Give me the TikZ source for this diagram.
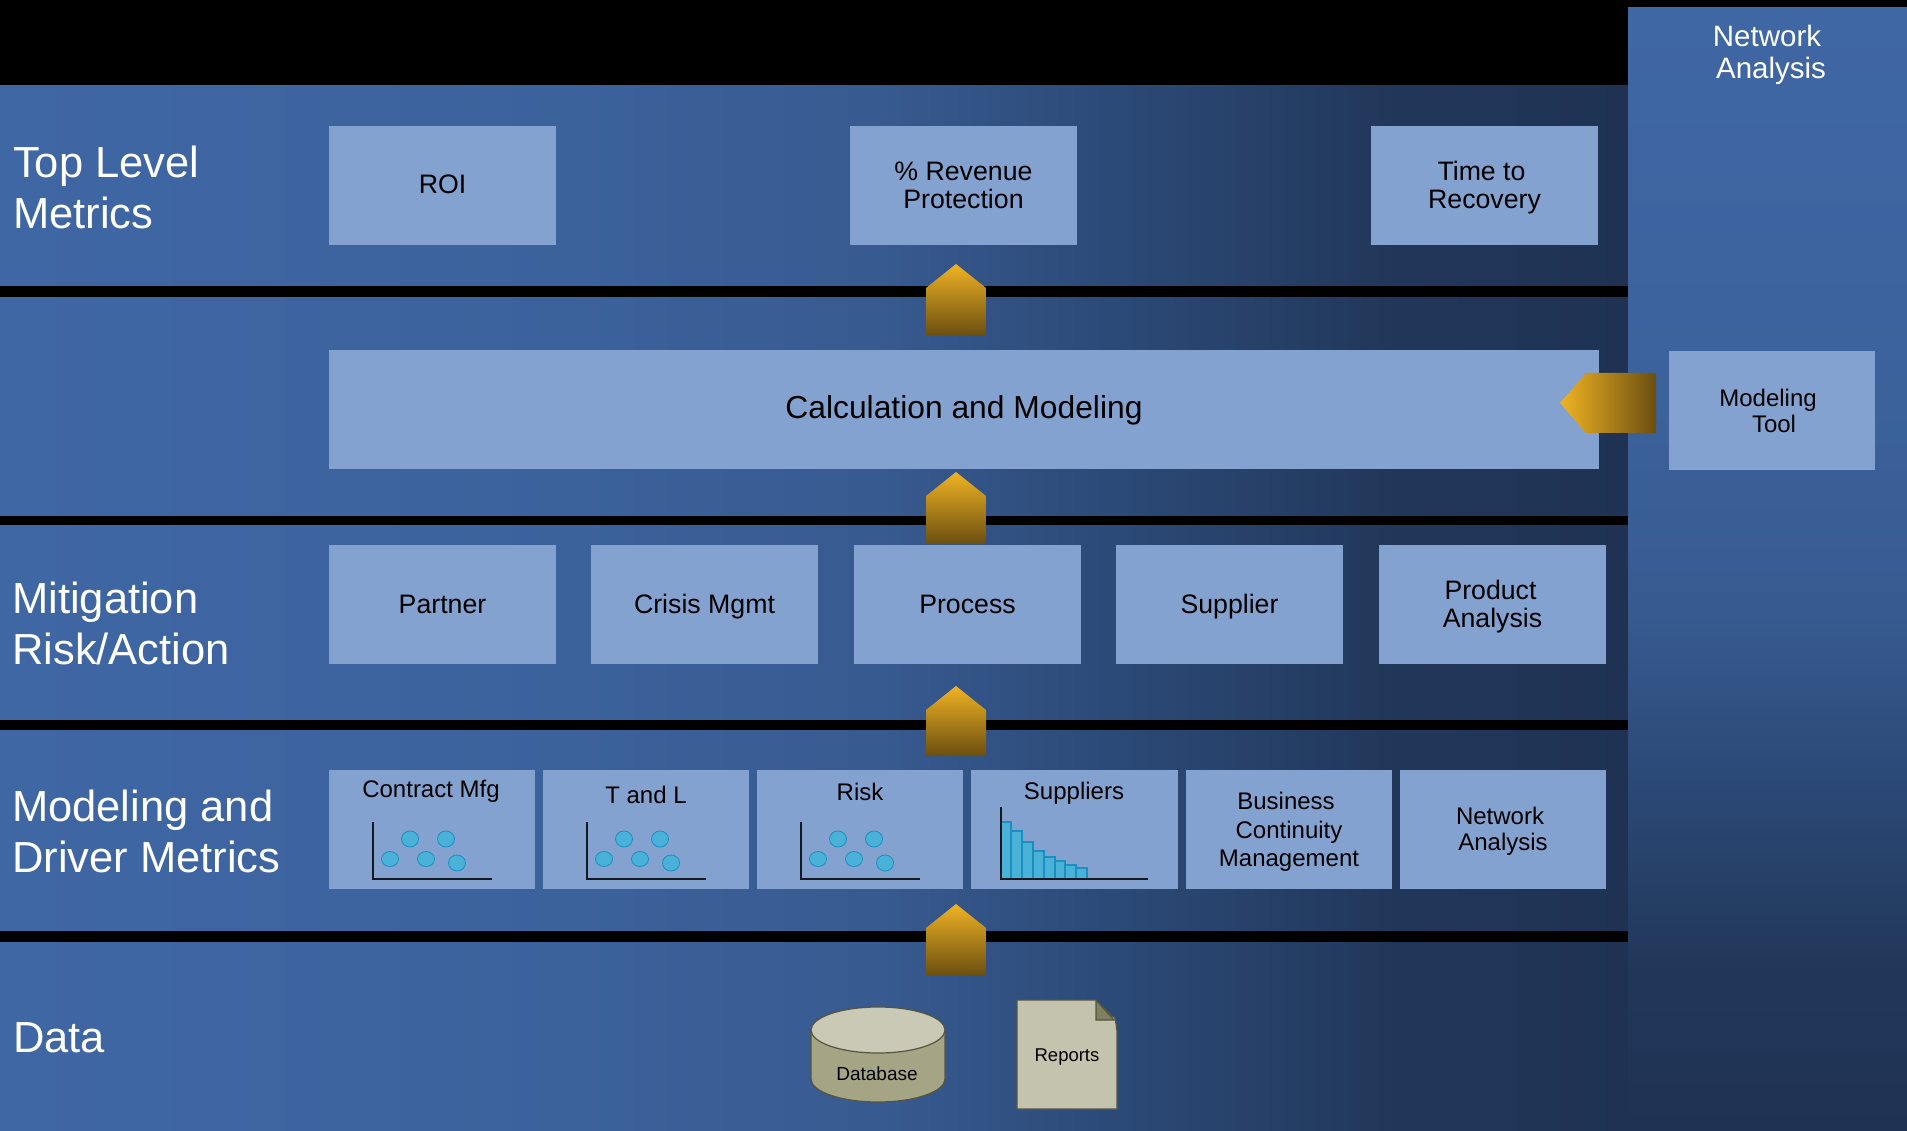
\documentclass[tikz,border=0pt]{standalone}
\usepackage{fontspec}
\setmainfont{Liberation Sans}
\definecolor{bandL}{HTML}{3F67A4}
\definecolor{bandA}{HTML}{3C629C}
\definecolor{bandB}{HTML}{375A90}
\definecolor{bandC}{HTML}{2C4A78}
\definecolor{bandD}{HTML}{213759}
\definecolor{bandR}{HTML}{1F3254}
\definecolor{boxfill}{HTML}{84A2CF}
\definecolor{goldA}{HTML}{F0B323}
\definecolor{goldB}{HTML}{6B4F10}
\definecolor{dotfill}{HTML}{4AB2D8}
\definecolor{dotline}{HTML}{1A8FC0}
\definecolor{olive}{HTML}{A5A586}
\definecolor{olivetop}{HTML}{C9C9B5}
\definecolor{paper}{HTML}{C4C4AE}
\definecolor{fold}{HTML}{7F7F62}
\definecolor{oline}{HTML}{55553F}
\pgfdeclarehorizontalshading{bandshade}{100bp}{color(0bp)=(bandL); color(25bp)=(bandL); color(42.5bp)=(bandA); color(52bp)=(bandB); color(59bp)=(bandC); color(68bp)=(bandD); color(75bp)=(bandR); color(100bp)=(bandR)}
\pgfdeclareverticalshading{colshade}{100bp}{color(0bp)=(bandR); color(25bp)=(bandR); color(32bp)=(bandD); color(41bp)=(bandC); color(48bp)=(bandB); color(57.5bp)=(bandA); color(75bp)=(bandL); color(100bp)=(bandL)}
\newcommand{\fs}[2]{\fontsize{#1}{#2}\selectfont}
\newcommand{\vcA}{\rule[-6pt]{0pt}{29pt}}
\newcommand{\vcB}{\rule[-6pt]{0pt}{31pt}}
\newcommand{\tall}[1]{\rule{0pt}{#1pt}}
\tikzset{
  x=1pt,y=-1pt,
  band/.style={shading=bandshade,draw=none},
  colband/.style={shading=colshade,draw=none},
  bar/.style={fill=black,draw=none},
  metricbox/.style={fill=boxfill,draw=none,inner sep=0pt,text=black,align=center,minimum height=119pt,font=\fs{26.7}{28}},
  smallbox/.style={metricbox,minimum width=206pt,font=\fs{24}{28.5}},
  rowlabel/.style={anchor=west,inner sep=0pt,text=white,align=left,font=\fs{43.5}{51}},
  boxtext/.style={inner sep=0pt,text=black,align=center,font=\fs{24}{28}},
  uparrow/.style={top color=goldA,bottom color=goldB,draw=none},
  leftarrow/.style={left color=goldA,right color=goldB,draw=none},
  axisline/.style={draw=black!85!boxfill,line width=1.2pt},
  dot/.style={fill=dotfill,draw=dotline,line width=0.8pt},
  hbar/.style={fill=dotfill,draw=dotline,line width=1.2pt},
  oliveshape/.style={draw=oline,line width=1.2pt},
}
\begin{document}
\begin{tikzpicture}
\useasboundingbox (0,0) rectangle (1907,1131);
\fill[black] (0,0) rectangle (1907,1131);
% bands
\shade[band] (0,85) rectangle (1628,1131);
% separators and top strip
\fill[bar] (0,0) rectangle (1628,85.5);
\fill[bar] (0,286) rectangle (1628,297);
\fill[bar] (0,516) rectangle (1628,525);
\fill[bar] (0,720) rectangle (1628,730);
\fill[bar] (0,931) rectangle (1628,941.5);
% right column
\shade[colband] (1628,7) rectangle (1907,1131);
\fill[bar] (1628,0) rectangle (1907,7);
% row labels
\node[rowlabel] (lblTop) at (13,187) {Top Level\\Metrics};
\node[rowlabel] (lblMit) at (12,623) {Mitigation\\Risk/Action};
\node[rowlabel] (lblMod) at (12,831) {Modeling and\\Driver Metrics};
\node[rowlabel] (lblData) at (13,1038) {Data};
\node[inner sep=0pt,text=white,align=center,font=\fs{29.5}{32}] (lblNet) at (1770,55) {Network\hspace*{6pt}\\\hspace*{2pt}Analysis};
% top row
\node[metricbox,minimum width=227pt] (roi) at (442.5,185.5) {\vcA ROI};
\node[metricbox,minimum width=227pt] (rev) at (963.5,185.5) {\% Revenue\\Protection};
\node[metricbox,minimum width=227pt] (ttr) at (1484.5,185.5) {\tall{24}Time to\hspace*{6pt}\\Recovery};
% calc
\node[metricbox,minimum width=1270pt,font=\fs{31.8}{36}] (calc) at (964,409.5) {\vcB Calculation and Modeling};
\node[metricbox,minimum width=206pt,font=\fs{24}{26}] (tool) at (1772,410.5) {Modeling\hspace*{8pt}\\\hspace*{4pt}Tool};
% mitigation row
\node[metricbox,minimum width=227pt] (partner) at (442.5,604.5) {\vcA Partner};
\node[metricbox,minimum width=227pt] (crisis) at (704.5,604.5) {\vcA Crisis Mgmt};
\node[metricbox,minimum width=227pt] (process) at (967.5,604.5) {\vcA Process};
\node[metricbox,minimum width=227pt] (supplier) at (1229.5,604.5) {\vcA Supplier};
\node[metricbox,minimum width=227pt] (product) at (1492.5,604.5) {\tall{24}Product\hspace*{4pt}\\Analysis};
% driver row
\node[smallbox] (contract) at (432,829.5) {};
\node[smallbox] (tandl) at (646,829.5) {};
\node[smallbox] (riskb) at (860,829.5) {};
\node[smallbox,minimum width=207pt] (supp) at (1074.5,829.5) {};
\node[smallbox] (bcm) at (1289,829.5) {\tall{22}Business\hspace*{6pt}\\Continuity\hspace*{6pt}\\Management};
\node[smallbox,font=\fs{24}{26}] (net) at (1503,829.5) {\tall{21}Network\hspace*{6pt}\\Analysis};
\node[boxtext] (contractT) at (431,791) {Contract Mfg};
\node[boxtext] (tandlT) at (646,795) {T and L};
\node[boxtext] (riskT) at (860,792) {Risk};
\node[boxtext] (suppT) at (1074,793) {Suppliers};
% scatter charts
\foreach \dx in {0,214,428}{
  \draw[axisline] (373+\dx,822) -- (373+\dx,879) -- (492+\dx,879);
  \draw[dot] (410+\dx,839) ellipse [x radius=8.5,y radius=8];
  \draw[dot] (446+\dx,839) ellipse [x radius=8.5,y radius=8];
  \draw[dot] (390+\dx,859) ellipse [x radius=8.5,y radius=7.5];
  \draw[dot] (426+\dx,859) ellipse [x radius=8.5,y radius=7.5];
  \draw[dot] (457+\dx,863) ellipse [x radius=8.5,y radius=8];
}
% histogram
\draw[hbar] (1001,822) rectangle (1011,879);
\draw[hbar] (1011,831) rectangle (1022,879);
\draw[hbar] (1022,842) rectangle (1033,879);
\draw[hbar] (1033,851) rectangle (1044,879);
\draw[hbar] (1044,857) rectangle (1055,879);
\draw[hbar] (1055,861) rectangle (1065,879);
\draw[hbar] (1065,865) rectangle (1076,879);
\draw[hbar] (1076,868) rectangle (1087,879);
\draw[axisline] (1001,807) -- (1001,879) -- (1148,879);
% data
\draw[oliveshape,fill=olive] (811,1030) -- (811,1079) arc[start angle=180,end angle=360,x radius=67,y radius=-23] -- (945,1030) -- cycle;
\draw[oliveshape,fill=olivetop] (878,1030) ellipse [x radius=67,y radius=23];
\node[boxtext,font=\fs{19}{22}] (db) at (877,1074) {Database};
\draw[oliveshape,fill=paper] (1017,1000) -- (1096,1000) -- (1113,1017) to[out=60,in=-90] (1117,1030) -- (1117,1109) -- (1017,1109) -- cycle;
\draw[oliveshape,fill=fold] (1096,1000) -- (1114,1020) -- (1096,1020) -- cycle;
\node[boxtext,font=\fs{18.5}{22}] (rep) at (1067,1057.5) {Reports};
% arrows
\shade[uparrow] (926,288) -- (956,264) -- (986,288) -- (986,335) -- (926,335) -- cycle;
\shade[uparrow] (926,496) -- (956,472) -- (986,496) -- (986,544) -- (926,544) -- cycle;
\shade[uparrow] (926,710) -- (956,686) -- (986,710) -- (986,756) -- (926,756) -- cycle;
\shade[uparrow] (926,928) -- (956,904) -- (986,928) -- (986,975) -- (926,975) -- cycle;
\shade[leftarrow] (1560,403) -- (1586,373) -- (1656,373) -- (1656,433) -- (1586,433) -- cycle;
\end{tikzpicture}
\end{document}
